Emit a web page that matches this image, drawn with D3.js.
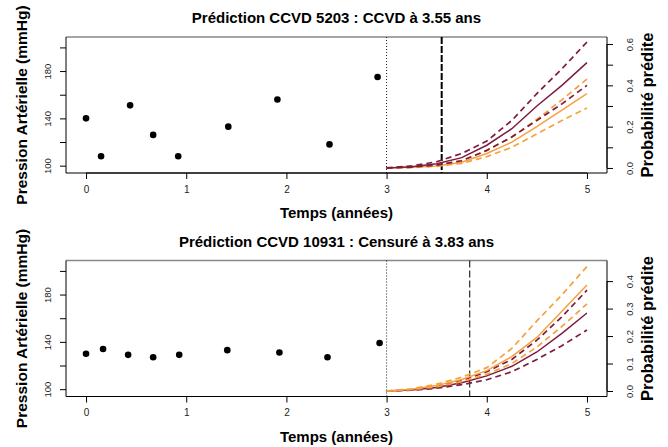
<!DOCTYPE html>
<html><head><meta charset="utf-8">
<script src="https://cdn.jsdelivr.net/npm/d3@7"></script>
<style>body{margin:0;background:#fff}svg{display:block}</style>
</head><body>
<svg id="c" width="668" height="447"></svg>
<script>
// ---- data ----
const titles = ["Prédiction CCVD 5203 : CCVD à 3.55 ans", "Prédiction CCVD 10931 : Censuré à 3.83 ans"];
const eventTimes = [3.55, 3.83];
const eventIsCVD = [true, false];
const obsTimes1 = [0, 0.15, 0.44, 0.67, 0.92, 1.42, 1.91, 2.43, 2.91];
const obsBP1 = [140, 108, 151, 126, 108, 133, 156, 118, 175];
const obsTimes2 = [0, 0.17, 0.42, 0.67, 0.93, 1.41, 1.93, 2.41, 2.93];
const obsBP2 = [130, 134, 129, 127, 129, 133, 131, 127, 139];
const predTimes = [3, 3.25, 3.5, 3.75, 4, 4.25, 4.5, 4.75, 5];
// panel 1
const darkMid1 = [0, 0.006, 0.02, 0.05, 0.11, 0.19, 0.30, 0.40, 0.51];
const darkUp1  = [0, 0.01, 0.03, 0.07, 0.13, 0.23, 0.36, 0.48, 0.61];
const darkLo1  = [0, 0.004, 0.014, 0.035, 0.085, 0.15, 0.23, 0.31, 0.40];
const orMid1   = [0, 0.003, 0.01, 0.028, 0.07, 0.125, 0.20, 0.28, 0.36];
const orUp1    = [0, 0.004, 0.013, 0.035, 0.085, 0.15, 0.235, 0.33, 0.43];
const orLo1    = [0, 0.002, 0.008, 0.022, 0.055, 0.10, 0.165, 0.23, 0.29];
// panel 2
const darkMid2 = [0, 0.004, 0.013, 0.03, 0.055, 0.09, 0.142, 0.21, 0.284];
const darkUp2  = [0, 0.005, 0.017, 0.038, 0.07, 0.115, 0.185, 0.27, 0.367];
const darkLo2  = [0, 0.003, 0.01, 0.023, 0.041, 0.07, 0.115, 0.165, 0.222];
const orMid2   = [0, 0.006, 0.02, 0.042, 0.074, 0.125, 0.195, 0.29, 0.386];
const orUp2    = [0, 0.008, 0.025, 0.05, 0.085, 0.155, 0.255, 0.35, 0.453];
const orLo2    = [0, 0.005, 0.015, 0.034, 0.061, 0.10, 0.16, 0.235, 0.317];
const xTicks = [0, 1, 2, 3, 4, 5];
const bpTicks = [100, 120, 140, 160, 180, 200];
const bpLabels = [100, 140, 180];
const probTicks1 = [0, 0.1, 0.2, 0.3, 0.4, 0.5, 0.6];
const probLabels1 = [0, 0.2, 0.4, 0.6];
const probTicks2 = [0, 0.1, 0.2, 0.3, 0.4];
const probLabels2 = [0, 0.1, 0.2, 0.3, 0.4];

const DARK = "#7d1c3e", ORANGE = "#f6a03e";
const svg = d3.select("#c");
const FONT = "'Liberation Sans', Arial, Helvetica, sans-serif";

const panels = [
  {oy: 0, obsT: obsTimes1, obsY: obsBP1, probDom: [-0.0244, 0.634], pt: probTicks1, pl: probLabels1,
   curves: [[orLo1, ORANGE, true], [orUp1, ORANGE, true], [orMid1, ORANGE, false], [darkLo1, DARK, true], [darkUp1, DARK, true], [darkMid1, DARK, false]]},
  {oy: 223.5, obsT: obsTimes2, obsY: obsBP2, probDom: [-0.02, 0.475], pt: probTicks2, pl: probLabels2,
   curves: [[darkLo2, DARK, true], [darkUp2, DARK, true], [darkMid2, DARK, false], [orLo2, ORANGE, true], [orUp2, ORANGE, true], [orMid2, ORANGE, false]]}
];

panels.forEach((p, i) => {
  const x0 = 66, x1 = 607, y0 = 37 + p.oy, y1 = 173 + p.oy;
  const g = svg.append("g");
  const x = d3.scaleLinear().domain([-0.2, 5.2]).range([x0, x1]);
  const y = d3.scaleLinear().domain([93.8, 208.8]).range([y1, y0]);
  const yp = d3.scaleLinear().domain(p.probDom).range([y1, y0]);

  // title
  g.append("text").attr("x", (x0 + x1) / 2).attr("y", 23 + p.oy).attr("text-anchor", "middle")
    .attr("font-family", FONT).attr("font-weight", "bold").attr("font-size", 15).text(titles[i]);

  // x axis
  const xa = g.append("g").attr("transform", `translate(0,${y1})`)
    .call(d3.axisBottom(x).tickValues(xTicks).tickSize(6).tickFormat(d3.format("d")));
  xa.select(".domain").attr("d", `M${x(0)},0H${x(5)}`).attr("stroke", "#000");
  xa.selectAll("text").attr("font-family", FONT).attr("font-size", 10).attr("fill", "#222").attr("dy", "1.05em");
  g.append("text").attr("x", (x0 + x1) / 2).attr("y", 218 + p.oy).attr("text-anchor", "middle")
    .attr("font-family", FONT).attr("font-weight", "bold").attr("font-size", 15).text("Temps (années)");

  // left axis
  const ya = g.append("g").attr("transform", `translate(${x0},0)`)
    .call(d3.axisLeft(y).tickValues(bpTicks).tickSize(6).tickFormat(d => bpLabels.includes(d) ? d : ""));
  ya.select(".domain").remove();
  ya.selectAll("text").attr("font-family", FONT).attr("font-size", 9.5).attr("fill", "#222")
    .attr("x", 0).attr("y", 0).attr("dy", 0).attr("text-anchor", "middle")
    .attr("transform", "translate(-15,0) rotate(-90)");
  g.append("text").attr("transform", `translate(27,${(y0 + y1) / 2}) rotate(-90)`).attr("text-anchor", "middle")
    .attr("font-family", FONT).attr("font-weight", "bold").attr("font-size", 15.5).text("Pression Artérielle (mmHg)");

  // right axis
  const ra = g.append("g").attr("transform", `translate(${x1},0)`)
    .call(d3.axisRight(yp).tickValues(p.pt).tickSize(6).tickFormat(d => p.pl.some(v => Math.abs(v - d) < 1e-9) ? d3.format(".1f")(d) : ""));
  ra.select(".domain").attr("d", `M0,${yp(p.pt[0])}V${yp(p.pt[p.pt.length - 1])}`).attr("stroke", "#000");
  ra.selectAll("text").attr("font-family", FONT).attr("font-size", 9.5).attr("fill", "#222")
    .attr("x", 0).attr("y", 0).attr("dy", 0).attr("text-anchor", "middle")
    .attr("transform", "translate(26,0) rotate(-90)");
  g.append("text").attr("transform", `translate(653,${(y0 + y1) / 2}) rotate(-90)`).attr("text-anchor", "middle")
    .attr("font-family", FONT).attr("font-weight", "bold").attr("font-size", 16.5).text("Probabilité prédite");

  // box
  g.append("line").attr("x1", x0).attr("x2", x1).attr("y1", y0).attr("y2", y0).attr("stroke", "#888").attr("stroke-width", 1.5);
  g.append("path").attr("d", `M${x0},${y0}V${y1}H${x1}V${y0}`).attr("fill", "none").attr("stroke", "#000").attr("stroke-width", 1);

  // vertical lines
  g.append("line").attr("x1", x(3)).attr("x2", x(3)).attr("y1", y0).attr("y2", y1)
    .attr("stroke", "#000").attr("stroke-width", 0.9).attr("stroke-dasharray", "1,2");
  const ev = eventTimes[i];
  g.append("line").attr("x1", x(ev)).attr("x2", x(ev)).attr("y1", y0).attr("y2", y1)
    .attr("stroke", "#000").attr("stroke-width", eventIsCVD[i] ? 2 : 1).attr("stroke-dasharray", eventIsCVD[i] ? "7,2" : "7,3");

  // points
  g.selectAll("circle.pt").data(p.obsT.map((t, k) => [t, p.obsY[k]])).join("circle")
    .attr("cx", d => x(d[0])).attr("cy", d => y(d[1])).attr("r", 3.3).attr("fill", "#000");

  // curves
  const line = d3.line().x(d => x(d[0])).y(d => yp(d[1]));
  p.curves.forEach(([vals, col, dashed]) => {
    g.append("path").datum(predTimes.map((t, k) => [t, vals[k]])).attr("d", line)
      .attr("fill", "none").attr("stroke", col).attr("stroke-width", dashed ? 1.7 : 1.5)
      .attr("stroke-dasharray", dashed ? "6,4" : null);
  });
});
</script>
</body></html>
